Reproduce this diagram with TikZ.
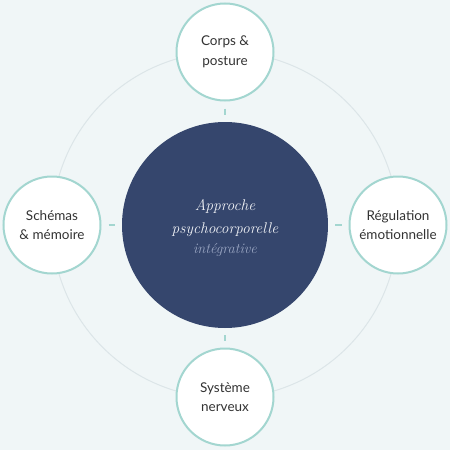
\documentclass[tikz,border=0pt]{standalone}
\usepackage{fontspec}
\setsansfont{Lato}
\definecolor{bg}{HTML}{F0F6F7}
\definecolor{navy}{HTML}{35466D}
\definecolor{teal}{HTML}{A3D6D0}
\definecolor{orbit}{HTML}{DCE5E8}
\definecolor{satext}{HTML}{333333}
\definecolor{ctext}{HTML}{F0F2F6}
\definecolor{csub}{HTML}{9AA6C2}
\begin{document}
\begin{tikzpicture}[x=1pt,y=-1pt,
  sat/.style={circle, draw=teal, line width=2pt, fill=white, minimum size=97pt, inner sep=0pt,
    font=\sffamily\fontsize{13.5}{19.5}\selectfont, text=satext, align=center},
  hub/.style={circle, fill=navy, minimum size=206pt, inner sep=0pt, align=center},
  conn/.style={draw=teal, line width=1.5pt, shorten >=7pt, shorten <=7pt}]
\fill[bg] (0,0) rectangle (450,450);
\useasboundingbox (0,0) rectangle (450,450);
\draw[orbit, line width=1pt] (225,225) circle (173);
\node[hub] (c) at (225,225) {};
\node[sat] (t) at (225,52) {Corps \&\\posture};
\node[sat] (l) at (52,225) {Schémas\\\& mémoire};
\node[sat] (r) at (398,225) {Régulation\\émotionnelle};
\node[sat] (b) at (225,397) {Système\\nerveux};
\node[text=ctext, font=\itshape\fontsize{15.5}{22.5}\selectfont, align=center] (tx) at (225,218) {Approche\\psychocorporelle};
\node[text=csub, font=\itshape\fontsize{14.5}{16}\selectfont] (sub) at (225,250) {intégrative};
\draw[conn] (t) -- (c);
\draw[conn] (l) -- (c);
\draw[conn] (r) -- (c);
\draw[conn] (b) -- (c);
\end{tikzpicture}
\end{document}
